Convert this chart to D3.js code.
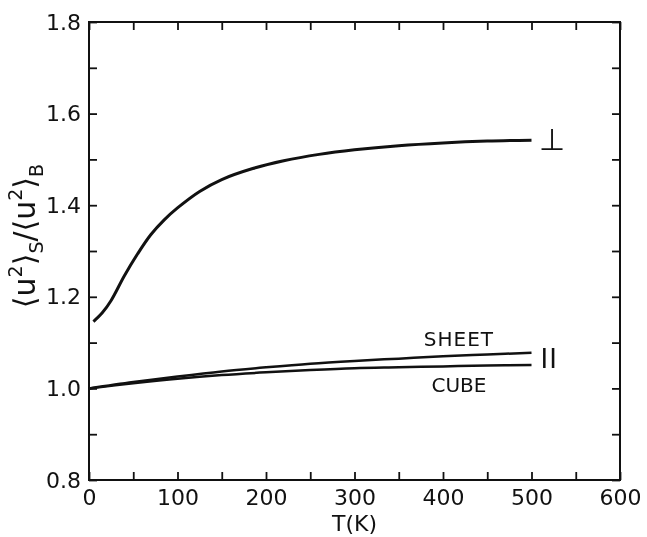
<!DOCTYPE html>
<meta charset="utf-8">
<style>
body { margin: 0; background: #fff; }
svg { will-change: transform; }
text { font-family: 'DejaVu Sans', sans-serif; fill: #111; }
.axis path { display: none; }
.axis line { stroke: #111; stroke-width: 1.8px; }
.axis text { font-size: 22px; }
</style>
<body>
<svg width="647" height="537"></svg>
<script src="https://d3js.org/d3.v7.min.js"></script>
<script>

// temperature grid and ratios
var tPerp = [5, 15, 25, 40, 55, 70, 85, 100, 125, 150, 185, 220, 260, 300, 350, 400, 450, 500];
var perp  = [1.146, 1.165, 1.192, 1.246, 1.294, 1.336, 1.368, 1.394, 1.430, 1.456, 1.480, 1.497, 1.511, 1.521, 1.530, 1.536, 1.540, 1.542];

var tPar  = [0, 50, 100, 150, 200, 250, 300, 350, 400, 450, 500];
var sheet = [1.0, 1.014, 1.026, 1.037, 1.046, 1.054, 1.060, 1.065, 1.070, 1.074, 1.078];
var cube  = [1.0, 1.011, 1.021, 1.029, 1.035, 1.040, 1.044, 1.046, 1.048, 1.050, 1.051];

var xTicks = [0, 100, 200, 300, 400, 500, 600];
var yTicks = [0.8, 1.0, 1.2, 1.4, 1.6, 1.8];

var svg = d3.select("svg"),
    margin = {left: 89, right: 27, top: 22, bottom: 57},
    width = 647 - margin.left - margin.right,
    height = 537 - margin.top - margin.bottom;

var g = svg.append("g").attr("transform", "translate(" + margin.left + "," + margin.top + ")");

var x = d3.scaleLinear().domain([0, 600]).range([0, width]),
    y = d3.scaleLinear().domain([0.8, 1.8]).range([height, 0]);

var minorX = d3.range(0, 601, 50),
    minorY = d3.range(8, 19).map(d => d / 10);

// ticks point inward on every side
g.append("g").attr("class", "axis")
    .attr("transform", "translate(0," + height + ")")
    .call(d3.axisBottom(x).tickValues(minorX).tickSize(-8).tickPadding(9)
      .tickFormat(d => xTicks.indexOf(d) >= 0 ? d : ""));

g.append("g").attr("class", "axis")
    .call(d3.axisTop(x).tickValues(minorX).tickSize(-8).tickFormat(""));

g.append("g").attr("class", "axis")
    .call(d3.axisLeft(y).tickValues(minorY).tickSize(-8).tickPadding(8)
      .tickFormat(d => yTicks.some(t => Math.abs(t - d) < 1e-9) ? d3.format(".1f")(d) : ""));

g.append("g").attr("class", "axis")
    .attr("transform", "translate(" + width + ",0)")
    .call(d3.axisRight(y).tickValues(minorY).tickSize(-8).tickFormat(""));

g.append("rect")
    .attr("width", width).attr("height", height)
    .attr("fill", "none").attr("stroke", "#111").attr("stroke-width", 2);

var line = d3.line()
    .x(d => x(d[0]))
    .y(d => y(d[1]))
    .curve(d3.curveCatmullRom);

g.append("path")
    .datum(d3.zip(tPerp, perp))
    .attr("d", line)
    .attr("fill", "none").attr("stroke", "#111").attr("stroke-width", 3);

g.append("path")
    .datum(d3.zip(tPar, sheet))
    .attr("d", line)
    .attr("fill", "none").attr("stroke", "#111").attr("stroke-width", 2.5);

g.append("path")
    .datum(d3.zip(tPar, cube))
    .attr("d", line)
    .attr("fill", "none").attr("stroke", "#111").attr("stroke-width", 2.5);

// curve labels
g.append("text").attr("x", x(523)).attr("y", y(1.542) + 10)
    .attr("text-anchor", "middle").style("font-size", "30px").text("⊥");
g.append("text").attr("x", x(418)).attr("y", y(1.078) - 7)
    .attr("text-anchor", "middle").style("font-size", "20px").style("letter-spacing", "1px").text("SHEET");
g.append("text").attr("x", x(418)).attr("y", y(1.051) + 27)
    .attr("text-anchor", "middle").style("font-size", "20px").text("CUBE");
g.append("text").attr("x", x(520)).attr("y", y(1.064) + 9)
    .attr("text-anchor", "middle").style("font-size", "26px").style("letter-spacing", "1px").text("II");

// axis titles
g.append("text")
    .attr("x", width / 2).attr("y", height + 51)
    .attr("text-anchor", "middle").style("font-size", "22px").text("T(K)");

var yl = svg.append("text")
    .attr("transform", "translate(35,236) rotate(-90)")
    .attr("text-anchor", "middle").style("font-size", "30px");
yl.append("tspan").text("⟨u");
yl.append("tspan").attr("dy", -13).style("font-size", "19px").text("2");
yl.append("tspan").attr("dy", 13).text("⟩");
yl.append("tspan").attr("dy", 8).style("font-size", "19px").text("S");
yl.append("tspan").attr("dy", -8).text("/⟨u");
yl.append("tspan").attr("dy", -13).style("font-size", "19px").text("2");
yl.append("tspan").attr("dy", 13).text("⟩");
yl.append("tspan").attr("dy", 8).style("font-size", "19px").text("B");

</script>
